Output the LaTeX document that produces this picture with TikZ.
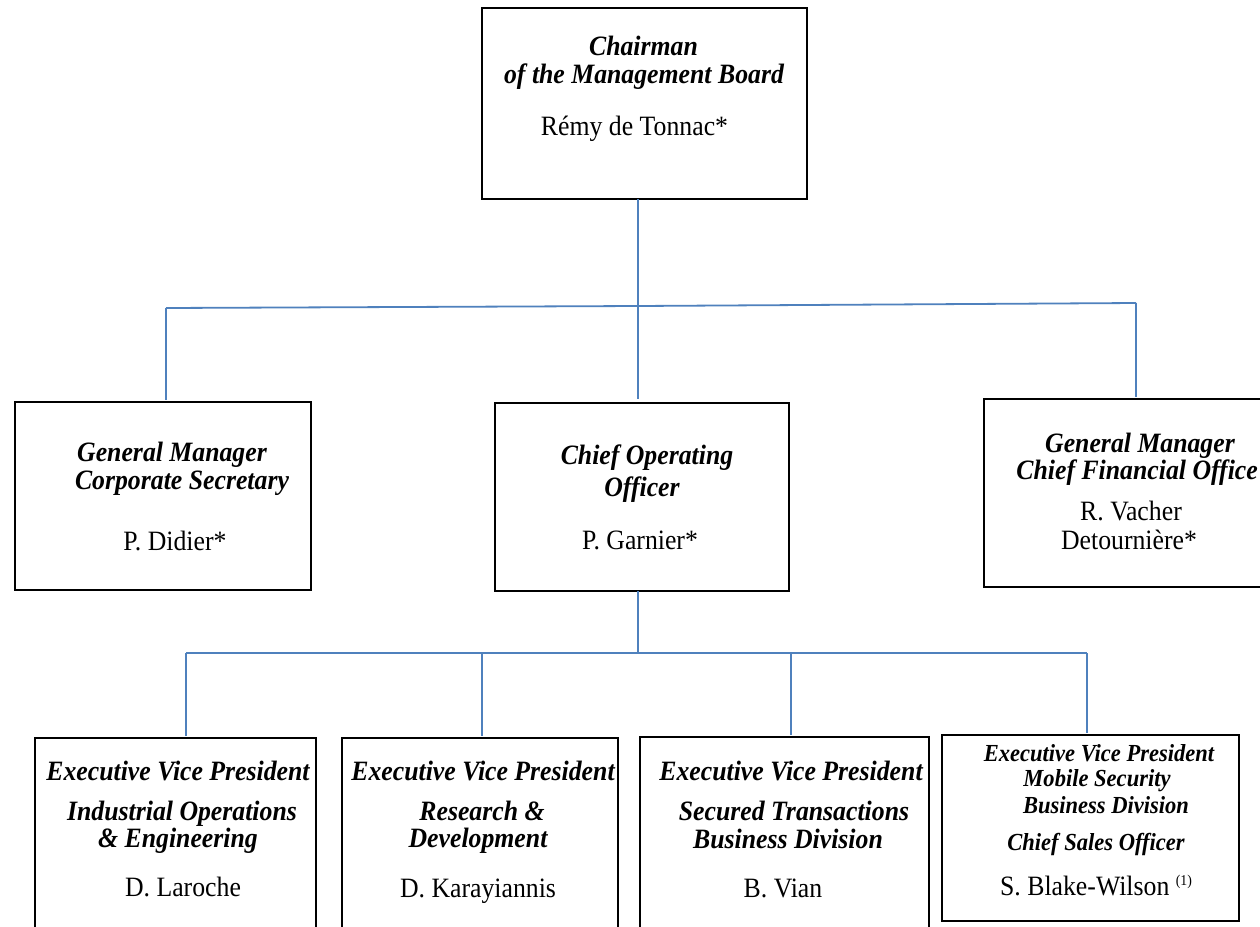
\documentclass[tikz,border=0pt]{standalone}
\usepackage{fontspec}
\setmainfont{Liberation Serif}[FakeStretch=0.92]
\definecolor{linkblue}{RGB}{79,129,189}
\begin{document}
\begin{tikzpicture}[x=1pt,y=-1pt,
  box/.style={draw=black,line width=2.6pt,rectangle,inner sep=0pt},
  link/.style={draw=linkblue,line width=1.8pt},
  ttl/.style={font=\fontsize{28}{30}\selectfont\bfseries\itshape,anchor=base,inner sep=0pt},
  nm/.style={font=\fontsize{28}{30}\selectfont,anchor=base,inner sep=0pt},
  ttls/.style={font=\fontsize{24.5}{26}\selectfont\bfseries\itshape,anchor=base,inner sep=0pt},
]
\useasboundingbox (0,0) rectangle (1260,926);
\clip (0,0) rectangle (1260,926);
\fill[white] (0,0) rectangle (1260,926);

% boxes
\node[box,minimum width=325pt,minimum height=191pt] (chair) at (644.5,103.5) {};
\node[box,minimum width=296pt,minimum height=188pt] (gm) at (163,496) {};
\node[box,minimum width=294pt,minimum height=188pt] (coo) at (642,497) {};
\node[box,minimum width=296pt,minimum height=188pt] (cfo) at (1132,493) {};
\node[box,minimum width=281pt,minimum height=200pt] (b1) at (175.5,838) {};
\node[box,minimum width=276pt,minimum height=200pt] (b2) at (480,838) {};
\node[box,minimum width=289pt,minimum height=200pt] (b3) at (784.5,837) {};
\node[box,minimum width=297pt,minimum height=186pt] (b4) at (1090.5,828) {};

% connectors
\coordinate (top) at (638,199);
\coordinate (jl) at (166,308);
\coordinate (jr) at (1136,303);
\coordinate (jm) at (638,306);
\draw[link] (top) -- (638,399) coordinate (cootop);
\draw[link] (jl) -- (jm) -- (jr);
\draw[link] (jl) -- (166,400) coordinate (gmtop);
\draw[link] (jr) -- (1136,397) coordinate (cfotop);

\coordinate (coobot) at (638,591);
\coordinate (bj) at (638,653);
\coordinate (bl) at (186,653);
\coordinate (br) at (1087,653);
\draw[link] (coobot) -- (bj);
\draw[link] (bl) -- (br);
\draw[link] (bl) -- (186,736) coordinate (b1top);
\draw[link] (482,653) coordinate (bj2) -- (482,736) coordinate (b2top);
\draw[link] (791,653) coordinate (bj3) -- (791,735) coordinate (b3top);
\draw[link] (br) -- (1087,733) coordinate (b4top);

% texts
\node[ttl] (c1) at (643.5,55) {Chairman};
\node[ttl] (c2) at (644,83) {of the Management Board};
\node[nm] (c3) at (634.5,135) {Rémy de Tonnac*};

\node[ttl] (g1) at (172,461) {General Manager};
\node[ttl] (g2) at (182,489) {Corporate Secretary};
\node[nm] (g3) at (175,550) {P. Didier*};

\node[ttl] (o1) at (647,464) {Chief Operating};
\node[ttl] (o2) at (642,496) {Officer};
\node[nm] (o3) at (640,549) {P. Garnier*};

\node[ttl] (f1) at (1140,452) {General Manager};
\node[ttl,anchor=base east] (f2) at (1258,479) {Chief Financial Office};
\node[nm] (f3) at (1131,520) {R. Vacher};
\node[nm] (f4) at (1129,549) {Detournière*};

\node[ttl] (e1a) at (178,780) {Executive Vice President};
\node[ttl] (e1b) at (182,820) {Industrial Operations};
\node[ttl] (e1c) at (178,847) {\& Engineering};
\node[nm] (e1d) at (183,896) {D. Laroche};

\node[ttl] (e2a) at (483,780) {Executive Vice President};
\node[ttl] (e2b) at (482,820) {Research \&};
\node[ttl] (e2c) at (478,847) {Development};
\node[nm] (e2d) at (478,897) {D. Karayiannis};

\node[ttl] (e3a) at (791,780) {Executive Vice President};
\node[ttl] (e3b) at (794,820) {Secured Transactions};
\node[ttl] (e3c) at (788,848) {Business Division};
\node[nm] (e3d) at (783,897) {B. Vian};

\node[ttls] (e4a) at (1099,761) {Executive Vice President};
\node[ttls] (e4b) at (1097,786) {Mobile Security};
\node[ttls] (e4c) at (1106,813) {Business Division};
\node[ttls] (e4d) at (1096,850) {Chief Sales Officer};
\node[nm] (e4e) at (1096,895) {S. Blake-Wilson \raisebox{0.33em}{\fontsize{15}{16}\selectfont(1)}};
\end{tikzpicture}
\end{document}
